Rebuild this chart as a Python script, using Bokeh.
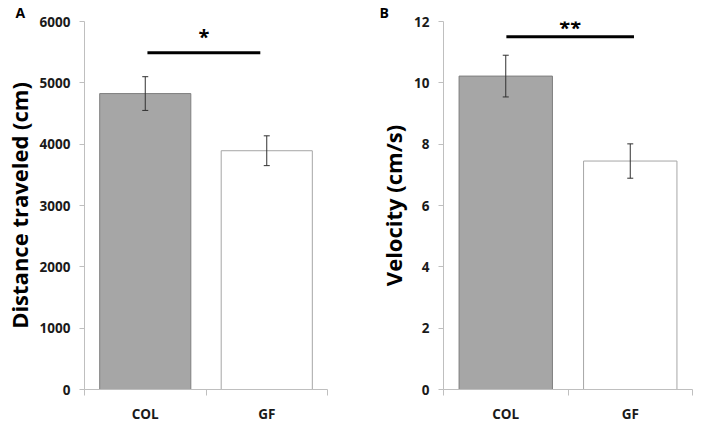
from bokeh.plotting import figure
from bokeh.models import FixedTicker, Whisker, ColumnDataSource, Label, TeeHead
from bokeh.layouts import row
from bokeh.embed import file_html
from bokeh.resources import INLINE

# ---- data ----
groups = ["COL", "GF"]
distance_mean = [4825, 3893]
distance_sem = [275, 243]
velocity_mean = [10.22, 7.45]
velocity_sem = [0.68, 0.56]
distance_ticks = [0, 1000, 2000, 3000, 4000, 5000, 6000]
velocity_ticks = [0, 2, 4, 6, 8, 10, 12]
distance_sig = ("*", 5490)
velocity_sig = ("**", 11.5)

FONT = "Open Sans"
bar_fills = ["#a6a6a6", "#ffffff"]
bar_lines = ["#7f7f7f", "#a6a6a6"]
AXIS_COLOR = "#bfbfbf"


def panel(letter, means, sems, yticks, ylabel, sig, width, border_left, border_right,
          sig_x0, sig_x1, star_up, letter_offset):
    p = figure(width=width, height=425, x_range=(0, len(groups)),
               y_range=(yticks[0], yticks[-1]), output_backend="svg",
               toolbar_location=None, min_border_left=border_left,
               min_border_right=border_right, min_border_top=18, min_border_bottom=31,
               title=letter)
    p.title.align = "left"
    p.title.offset = letter_offset
    p.title.text_font = FONT
    p.title.text_font_style = "bold"
    p.title.text_font_size = "14px"
    p.title.text_color = "black"
    p.title.standoff = 0
    p.outline_line_color = None
    p.xgrid.visible = False
    p.ygrid.visible = False
    p.background_fill_color = "white"
    p.border_fill_color = "white"

    xs = [i + 0.5 for i in range(len(groups))]
    src = ColumnDataSource(dict(x=xs, top=means, fill=bar_fills, line=bar_lines,
                                upper=[m + s for m, s in zip(means, sems)],
                                lower=[m - s for m, s in zip(means, sems)]))
    p.vbar(x="x", top="top", bottom=0, width=0.75, source=src, fill_color="fill",
           line_color="line", line_width=1)
    w = Whisker(base="x", upper="upper", lower="lower", source=src, level="annotation",
                line_color="#303030", line_width=1,
                upper_head=TeeHead(size=6, line_color="#303030", line_width=1),
                lower_head=TeeHead(size=6, line_color="#303030", line_width=1))
    p.add_layout(w)

    # significance bar
    star, level = sig
    p.segment(x0=[sig_x0], y0=[level], x1=[sig_x1], y1=[level], line_color="black",
              line_width=3)
    p.add_layout(Label(x=(sig_x0 + sig_x1) / 2, y=level, text=star, text_font=FONT,
                       text_font_style="bold", text_font_size="20px", text_align="center",
                       text_baseline="bottom", y_offset=star_up, text_color="black"))

    # axes
    ya = p.yaxis[0]
    ya.ticker = FixedTicker(ticks=yticks, minor_ticks=[])
    ya.axis_line_color = AXIS_COLOR
    ya.major_tick_line_color = AXIS_COLOR
    ya.major_tick_out = 5
    ya.major_tick_in = 0
    ya.minor_tick_line_color = None
    ya.major_label_text_font = FONT
    ya.major_label_text_font_style = "bold"
    ya.major_label_text_font_size = "13.5px"
    ya.major_label_text_color = "#1a1a1a"
    ya.major_label_standoff = 9
    ya.axis_label = ylabel
    ya.axis_label_text_font = FONT
    ya.axis_label_text_font_style = "bold"
    ya.axis_label_text_font_size = "22px"
    ya.axis_label_text_color = "black"
    ya.axis_label_standoff = 3

    xa = p.xaxis[0]
    xa.ticker = FixedTicker(ticks=xs, minor_ticks=list(range(len(groups) + 1)))
    xa.major_label_overrides = {x: g for x, g in zip(xs, groups)}
    xa.axis_line_color = AXIS_COLOR
    xa.major_tick_line_color = None
    xa.major_tick_out = 0
    xa.major_tick_in = 0
    xa.minor_tick_line_color = AXIS_COLOR
    xa.minor_tick_out = 6
    xa.minor_tick_in = 0
    xa.major_label_text_font = FONT
    xa.major_label_text_font_style = "bold"
    xa.major_label_text_font_size = "13.5px"
    xa.major_label_text_color = "#1a1a1a"
    xa.major_label_standoff = 9
    return p


pA = panel("A", distance_mean, distance_sem, distance_ticks, "Distance traveled (cm)",
           distance_sig, 350, 81, 23, 0.518, 1.447, 3, -69)
pB = panel("B", velocity_mean, velocity_sem, velocity_ticks, "Velocity (cm/s)",
           velocity_sig, 347, 93, 5, 0.505, 1.53, -4, -64)

layout = row(pA, pB)
open("out.html", "w").write(file_html(layout, INLINE))
